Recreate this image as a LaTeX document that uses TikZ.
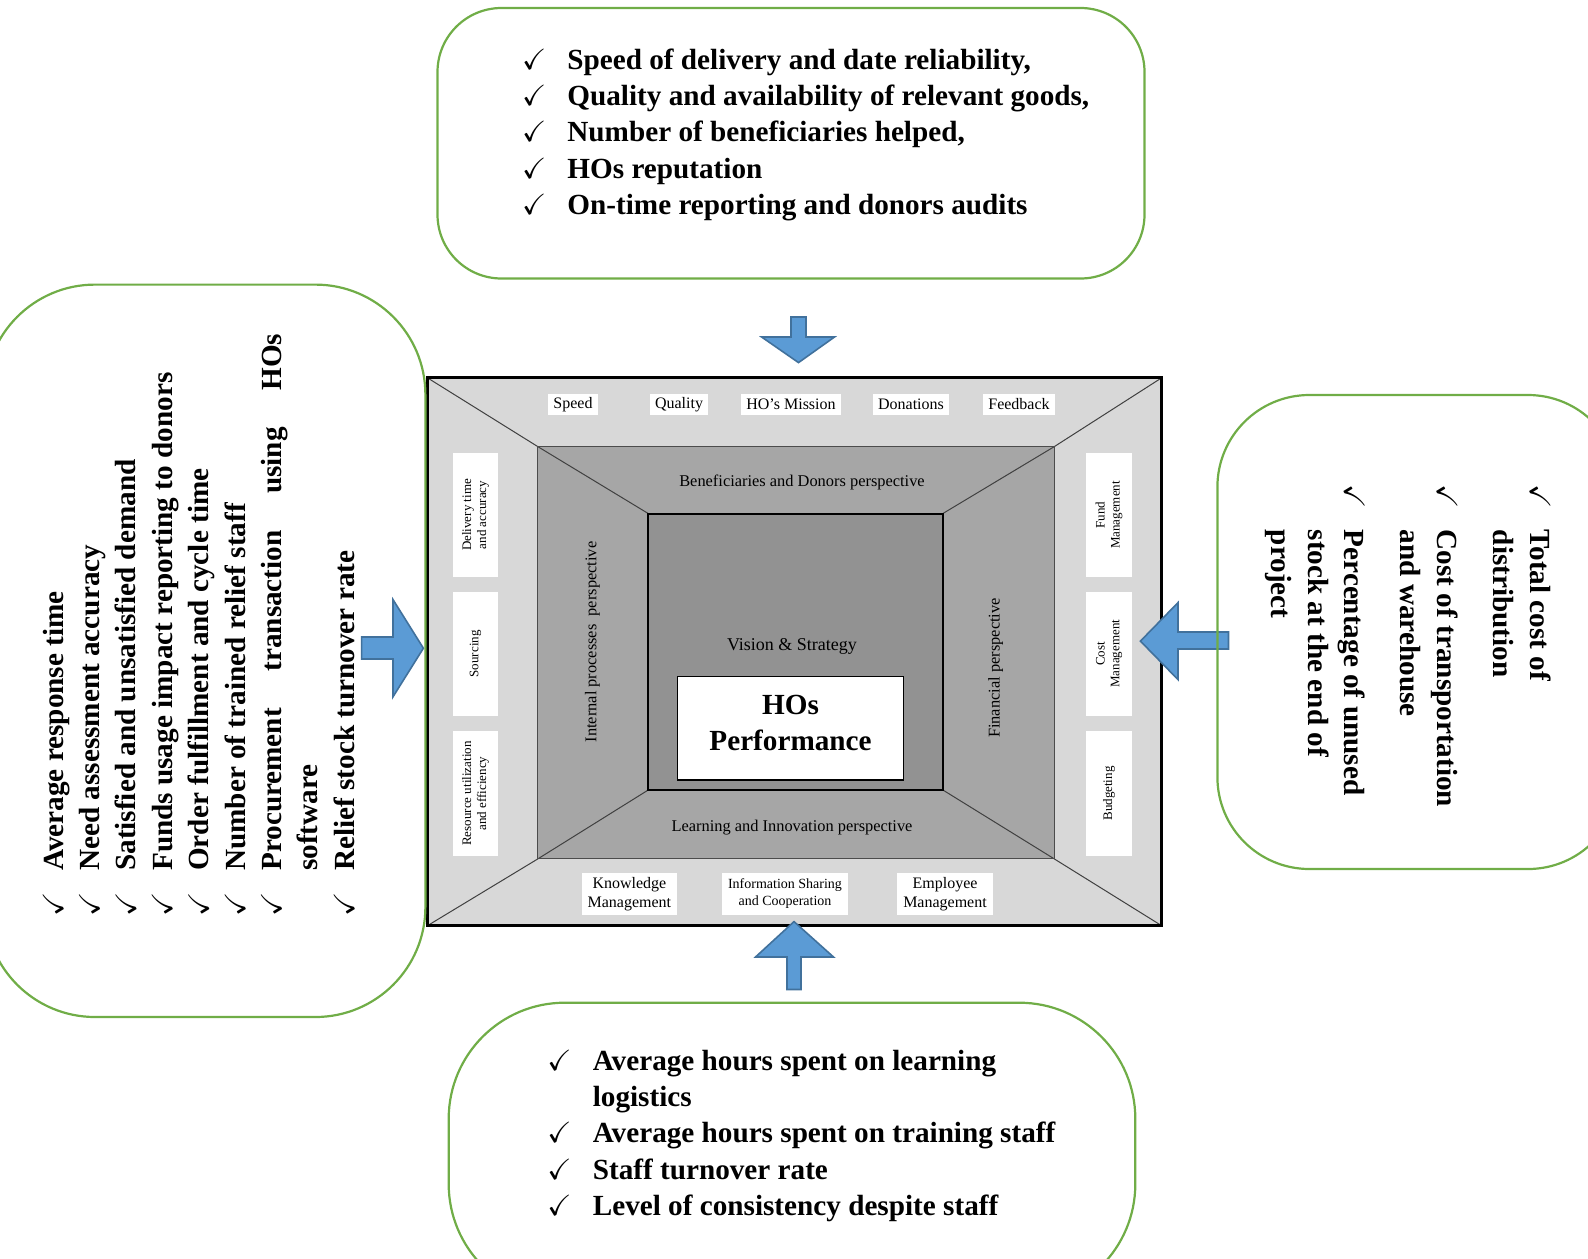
\documentclass[tikz,border=0pt]{standalone}
\usepackage{fontspec}
\setmainfont{Liberation Serif}
\usepackage{amssymb}
\definecolor{outerband}{RGB}{216,216,216}
\definecolor{midband}{RGB}{166,166,166}
\definecolor{innerband}{RGB}{146,146,146}
\definecolor{boxgreen}{RGB}{112,173,71}
\definecolor{arrowfill}{RGB}{91,155,213}
\definecolor{arrowline}{RGB}{65,113,156}
\newcommand{\ck}{\makebox[22.7pt][l]{$\checkmark$}}
\newcommand{\listfont}{\bfseries\fontsize{14.6}{18.2}\selectfont}

\begin{document}
\begin{tikzpicture}[x=0.5pt,y=-0.5pt,
  kpibox/.style={draw=boxgreen, line width=1.1pt},
  bigarrow/.style={fill=arrowfill, draw=arrowline, line width=0.8pt},
  tag/.style={fill=white, inner xsep=2.5pt, inner ysep=0pt, minimum height=10.5pt, font=\fontsize{8}{9.6}\selectfont},
  vtag/.style={fill=white, rotate=90, align=center, inner sep=1pt, minimum width=62.3pt, minimum height=22.8pt, font=\fontsize{6.5}{7.4}\selectfont},
  btag/.style={fill=white, align=center, inner xsep=3pt, inner ysep=0pt, minimum height=20.8pt},
  persp/.style={font=\fontsize{8.2}{9.8}\selectfont},
  kpilist/.style={anchor=base west, inner sep=0pt}]
\useasboundingbox (0,0) rectangle (1588,1258);

% balanced scorecard frame
\coordinate (o1) at (427.4,377.8);
\coordinate (o2) at (1161.7,377.8);
\coordinate (o3) at (1161.7,925.7);
\coordinate (o4) at (427.4,925.7);
\coordinate (m1) at (537.8,446.6);
\coordinate (m2) at (1054.3,446.6);
\coordinate (m3) at (1054.3,858.9);
\coordinate (m4) at (537.8,858.9);
\coordinate (i1) at (648.2,513.5);
\coordinate (i2) at (942.9,513.5);
\coordinate (i3) at (942.9,790);
\coordinate (i4) at (648.2,790);

\fill[outerband] (o1) rectangle (o3);
\fill[midband] (m1) rectangle (m3);
\fill[innerband] (i1) rectangle (i3);
\foreach \k in {1,...,4}
  \draw[black!75, line width=0.5pt] (o\k) -- (m\k) -- (i\k);
\draw[black!70, line width=0.5pt] (m1) rectangle (m3);
\draw[line width=1pt] (i1) rectangle (i3);
\draw[line width=1.5pt] (o1) rectangle (o3);

\node [tag] (speed) at (573,404.5) {Speed};
\node [tag] (quality) at (679,404.5) {Quality};
\node [tag] (mission) at (791,404.5) {HO’s Mission};
\node [tag] (donations) at (911,404.5) {Donations};
\node [tag] (feedback) at (1019,404.5) {Feedback};

\node [vtag] (delivery) at (475.5,515) {Delivery time\\and accuracy};
\node [vtag] (sourcing) at (475.5,653.8) {Sourcing};
\node [vtag] (resource) at (475.5,793.5) {Resource utilization\\and efficiency};
\node [vtag] (fund) at (1109,515) {Fund\\Management};
\node [vtag] (cost) at (1109,653.8) {Cost\\Management};
\node [vtag] (budget) at (1109,793.5) {Budgeting};

\node [btag, font=\fontsize{8}{9.4}\selectfont] (knowledge) at (629.4,893.8) {Knowledge\\Management};
\node [btag, font=\fontsize{7}{8.4}\selectfont] (sharing) at (785,893.8) {Information Sharing\\and Cooperation};
\node [btag, font=\fontsize{8}{9.4}\selectfont] (employee) at (945,893.8) {Employee\\Management};

\node [persp] (benef) at (802,482) {Beneficiaries and Donors perspective};
\node [persp] (learn) at (792,827.5) {Learning and Innovation perspective};
\node [persp, rotate=90] (internal) at (592.5,642) {Internal processes\ \ perspective};
\node [persp, rotate=90] (financial) at (995.6,668) {Financial perspective};
\node [font=\fontsize{9}{10.8}\selectfont] (vision) at (792,646) {Vision \& Strategy};
\draw[fill=white, line width=0.6pt] (677.6,676.5) rectangle (903.4,779.9);
\node [align=center, font=\listfont] (hos) at (790.5,723) {HOs\\Performance};

% arrows into the frame
\filldraw[bigarrow] (791,317) -- (806,317) -- (806,337) -- (834.5,337) -- (798.5,362.6) -- (761.6,337) -- (791,337) -- cycle;
\filldraw[bigarrow] (361.6,637) -- (393,637) -- (393,599.6) -- (423.4,648.2) -- (393,696.8) -- (393,659) -- (361.6,659) -- cycle;
\filldraw[bigarrow] (1228.5,632) -- (1178,632) -- (1178,602.6) -- (1140.4,641.1) -- (1178,679.6) -- (1178,649) -- (1228.5,649) -- cycle;
\filldraw[bigarrow] (787,989.5) -- (787,957) -- (755.5,957) -- (794,921.6) -- (833.5,957) -- (801,957) -- (801,989.5) -- cycle;

% indicator boxes
\draw[kpibox, rounded corners=32pt] (437.5,8) rectangle (1144.5,278.5);
\draw[kpibox, rounded corners=55pt] (-15,284.6) rectangle (425.4,1017);
\draw[kpibox, rounded corners=46pt] (1217.4,395) rectangle (1620,869);
\draw[kpibox, rounded corners=58pt] (448.7,1002.7) rectangle (1135.3,1300);

\node [kpilist] (toplist) at (521.6,69) {\listfont\begin{tabular}[t]{@{}l@{}l@{}}
\ck & Speed of delivery and date reliability,\\
\ck & Quality and availability of relevant goods,\\
\ck & Number of beneficiaries helped,\\
\ck & HOs reputation\\
\ck & On-time reporting and donors audits
\end{tabular}};

\node [kpilist, rotate=90] (leftlist) at (63,916.6) {\listfont\begin{tabular}[t]{@{}l@{}l@{}}
\ck & Average response time\\
\ck & Need assessment accuracy\\
\ck & Satisfied and unsatisfied demand\\
\ck & Funds usage impact reporting to donors\\
\ck & Order fulfillment and cycle time\\
\ck & Number of trained relief staff\\
\ck & \makebox[268.5pt][s]{Procurement transaction using HOs}\\
    & software\\
\ck & Relief stock turnover rate
\end{tabular}};

\node [kpilist, rotate=-90] (rightlist) at (1530,484) {\listfont\begin{tabular}[t]{@{}l@{}l@{}}
\ck & Total cost of\\
    & distribution\\[10pt]
\ck & Cost of transportation\\
    & and warehouse\\[10pt]
\ck & Percentage of unused\\
    & stock at the end of\\
    & project
\end{tabular}};

\node [kpilist] (bottomlist) at (547,1070) {\listfont\begin{tabular}[t]{@{}l@{}l@{}}
\ck & Average hours spent on learning\\
    & logistics\\
\ck & Average hours spent on training staff\\
\ck & Staff turnover rate\\
\ck & Level of consistency despite staff
\end{tabular}};
\end{tikzpicture}
\end{document}
